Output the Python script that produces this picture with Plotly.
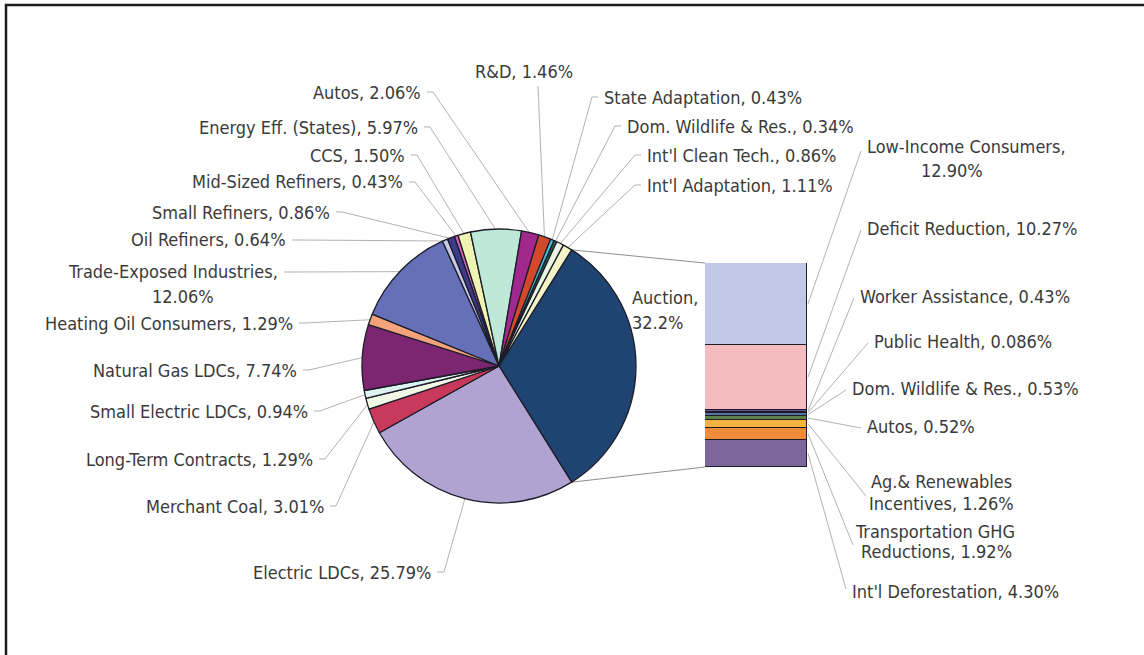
import math
import plotly.graph_objects as go

# ---------------- data ----------------
pie_labels = ["Auction", "Electric LDCs", "Merchant Coal", "Long-Term Contracts",
              "Small Electric LDCs", "Natural Gas LDCs", "Heating Oil Consumers",
              "Trade-Exposed Industries", "Oil Refiners", "Small Refiners",
              "Mid-Sized Refiners", "CCS", "Energy Eff. (States)", "Autos", "R&D",
              "State Adaptation", "Dom. Wildlife & Res.", "Int'l Clean Tech.",
              "Int'l Adaptation"]
pie_values = [32.2, 25.79, 3.01, 1.29, 0.94, 7.74, 1.29, 12.06, 0.64, 0.86,
              0.43, 1.50, 5.97, 2.06, 1.46, 0.43, 0.34, 0.86, 1.11]
pie_pct_text = ["32.2%", "25.79%", "3.01%", "1.29%", "0.94%", "7.74%", "1.29%",
                "12.06%", "0.64%", "0.86%", "0.43%", "1.50%", "5.97%", "2.06%",
                "1.46%", "0.43%", "0.34%", "0.86%", "1.11%"]

bar_labels = ["Low-Income Consumers", "Deficit Reduction", "Worker Assistance",
              "Public Health", "Dom. Wildlife & Res.", "Autos",
              "Ag.& Renewables Incentives", "Transportation GHG Reductions",
              "Int'l Deforestation"]
bar_values = [12.90, 10.27, 0.43, 0.086, 0.53, 0.52, 1.26, 1.92, 4.30]
bar_pct_text = ["12.90%", "10.27%", "0.43%", "0.086%", "0.53%", "0.52%",
                "1.26%", "1.92%", "4.30%"]

# ---------------- styles ----------------
pie_colors = ["#1f4471", "#b1a3d1", "#c9395b", "#f1f8e6", "#ddf3ef", "#7c2571",
              "#f4a27c", "#6670b8", "#c9c9e6", "#3b3b8c", "#d262b2", "#eff4b2",
              "#bee8d8", "#a1298d", "#d24a2b", "#42c6d8", "#2b5b50", "#e8f4e0",
              "#f4f4c6"]
bar_colors = ["#c0c8e6", "#f4bcbe", "#6f5093", "#3f5c8e", "#55749f", "#5d7f4c",
              "#f5b142", "#f08b3b", "#7d6699"]

W, H = 1144, 655
CX, CY, R = 499, 366, 137
BAR_X0, BAR_X1, BAR_Y0, BAR_Y1 = 705, 807, 263, 467
FONT = "Liberation Sans Narrow, DejaVu Sans Condensed, Arial Narrow, sans-serif"
FSIZE = 18
TXT = "#3a3a3a"
LEAD = "#a9a9a9"

# label layout (pixel positions): list of (x, y, xanchor) per text line,
# split mode, and leader points from text side outwards
pie_layout = [
    dict(pos=[(630, 297, "left"), (630, 322, "left")], split="value", pts=None),
    dict(pos=[(433, 572, "right")], pts=[(437, 572), (444, 572)]),
    dict(pos=[(326, 506, "right")], pts=[(330, 506), (336, 506)]),
    dict(pos=[(315, 459, "right")], pts=[(319, 459), (325, 459)]),
    dict(pos=[(310, 411, "right")], pts=[(314, 411), (320, 411)]),
    dict(pos=[(299, 370, "right")], pts=[(303, 370), (309, 370)]),
    dict(pos=[(295, 323, "right")], pts=[(299, 323), (305, 323)]),
    dict(pos=[(280, 272, "right"), (183, 296, "center")], split="value",
         pts=[(284, 272), (290, 272)]),
    dict(pos=[(288, 240, "right")], pts=[(292, 240), (298, 240)]),
    dict(pos=[(332, 212, "right")], pts=[(336, 212), (342, 212)]),
    dict(pos=[(405, 182, "right")], pts=[(409, 182), (415, 182)]),
    dict(pos=[(407, 155, "right")], pts=[(411, 155), (417, 155)]),
    dict(pos=[(420, 127, "right")], pts=[(424, 127), (430, 127)]),
    dict(pos=[(423, 92, "right")], pts=[(427, 92), (433, 92)]),
    dict(pos=[(524, 72, "center")], pts=[(538, 86)]),
    dict(pos=[(602, 97, "left")], pts=[(598, 97), (592, 97)]),
    dict(pos=[(625, 126, "left")], pts=[(621, 126), (615, 126)]),
    dict(pos=[(645, 155, "left")], pts=[(641, 155), (635, 155)]),
    dict(pos=[(645, 185, "left")], pts=[(641, 185), (635, 185)]),
]
bar_layout = [
    dict(pos=[(865, 147, "left"), (952, 170, "center")], split="value", pts=[(861, 151)]),
    dict(pos=[(865, 228, "left")], pts=[(861, 230)]),
    dict(pos=[(858, 296, "left")], pts=[(854, 298)]),
    dict(pos=[(872, 341, "left")], pts=[(868, 343)]),
    dict(pos=[(850, 388, "left")], pts=[(846, 390)]),
    dict(pos=[(865, 426, "left")], pts=[(861, 428)]),
    dict(pos=[(941, 481, "center"), (941, 503, "center")], split=2, pts=[(866, 496)]),
    dict(pos=[(935, 531, "center"), (936, 551, "center")], split=2, pts=[(853, 545)]),
    dict(pos=[(850, 591, "left")], pts=[(846, 589)]),
]


def px(x):
    return x / W


def py(y):
    return 1 - y / H


def make_lines(label, pct, split):
    if split is None:
        return [f"{label}, {pct}"]
    if split == "value":
        return [f"{label},", pct]
    words = label.split(" ")
    return [" ".join(words[:split]), " ".join(words[split:]) + f", {pct}"]


pie_total = sum(pie_values)
bar_total = sum(bar_values)
# rotate so that the Auction slice is centred facing the bar (3 o'clock)
rotation = 90 - pie_values[0] / pie_total * 180


def pie_pt(angle_deg, rr=R):
    t = math.radians(angle_deg)
    return CX + rr * math.sin(t), CY - rr * math.cos(t)


fig = go.Figure()
fig.add_trace(go.Pie(
    labels=pie_labels, values=pie_values, sort=False, direction="clockwise",
    rotation=rotation, textinfo="none", hoverinfo="label+value",
    marker=dict(colors=pie_colors, line=dict(color="#1c1c28", width=1.3)),
    domain=dict(x=[px(CX - R), px(CX + R)], y=[py(CY + R), py(CY - R)]),
    showlegend=False))

for lab, val, col in reversed(list(zip(bar_labels, bar_values, bar_colors))):
    fig.add_trace(go.Bar(
        x=[0], y=[val], width=[1], name=lab, showlegend=False,
        marker=dict(color=col, line=dict(color="#1c1c28", width=1.3)),
        hoverinfo="name+y"))

shapes = []
annotations = []


def add_path(points, color=LEAD, width=0.9):
    d = "M " + " L ".join(f"{px(x):.5f},{py(y):.5f}" for x, y in points)
    shapes.append(dict(type="path", path=d, xref="paper", yref="paper",
                       line=dict(color=color, width=width), layer="below"))


def add_text(lines, pos):
    for text, (x, y, anc) in zip(lines, pos):
        annotations.append(dict(text=text, x=px(x), y=py(y), xref="paper",
                                yref="paper", xanchor=anc, yanchor="middle",
                                showarrow=False,
                                font=dict(family=FONT, size=FSIZE, color=TXT)))


# pie labels + leader lines
cum = 0.0
for lab, val, pct, lay in zip(pie_labels, pie_values, pie_pct_text, pie_layout):
    a0 = rotation + cum / pie_total * 360
    cum += val
    a1 = rotation + cum / pie_total * 360
    add_text(make_lines(lab, pct, lay.get("split")), lay["pos"])
    if lay["pts"]:
        add_path(lay["pts"] + [pie_pt((a0 + a1) / 2, R - 1)])

# bar labels + leader lines
bh = BAR_Y1 - BAR_Y0
cum = 0.0
for lab, val, pct, lay in zip(bar_labels, bar_values, bar_pct_text, bar_layout):
    ymid = BAR_Y0 + (cum + val / 2) / bar_total * bh
    cum += val
    add_text(make_lines(lab, pct, lay.get("split")), lay["pos"])
    add_path([(BAR_X1 + 1, ymid)] + lay["pts"][::-1])

# connector lines pie -> bar (ends of Auction slice)
a_start = rotation
a_end = rotation + pie_values[0] / pie_total * 360
add_path([pie_pt(a_start), (BAR_X0, BAR_Y0)], color="#8f8f8f", width=1)
add_path([pie_pt(a_end), (BAR_X0, BAR_Y1)], color="#8f8f8f", width=1)

# frame
shapes.append(dict(type="rect", xref="paper", yref="paper",
                   x0=px(6), x1=px(1160), y0=py(5), y1=py(670),
                   line=dict(color="#1b1b1b", width=2.5), layer="above"))

fig.update_layout(
    width=W, height=H, margin=dict(l=0, r=0, t=0, b=0),
    paper_bgcolor="white", plot_bgcolor="rgba(0,0,0,0)",
    barmode="stack", bargap=0,
    xaxis=dict(domain=[px(BAR_X0), px(BAR_X1)], range=[-0.5, 0.5], visible=False,
               fixedrange=True),
    yaxis=dict(domain=[py(BAR_Y1), py(BAR_Y0)], range=[0, bar_total], visible=False,
               fixedrange=True),
    shapes=shapes, annotations=annotations,
    font=dict(family=FONT, size=FSIZE, color=TXT),
    showlegend=False,
)

fig.write_html("out.html", config={"displayModeBar": False},
               post_script="document.body.style.margin='0';")
